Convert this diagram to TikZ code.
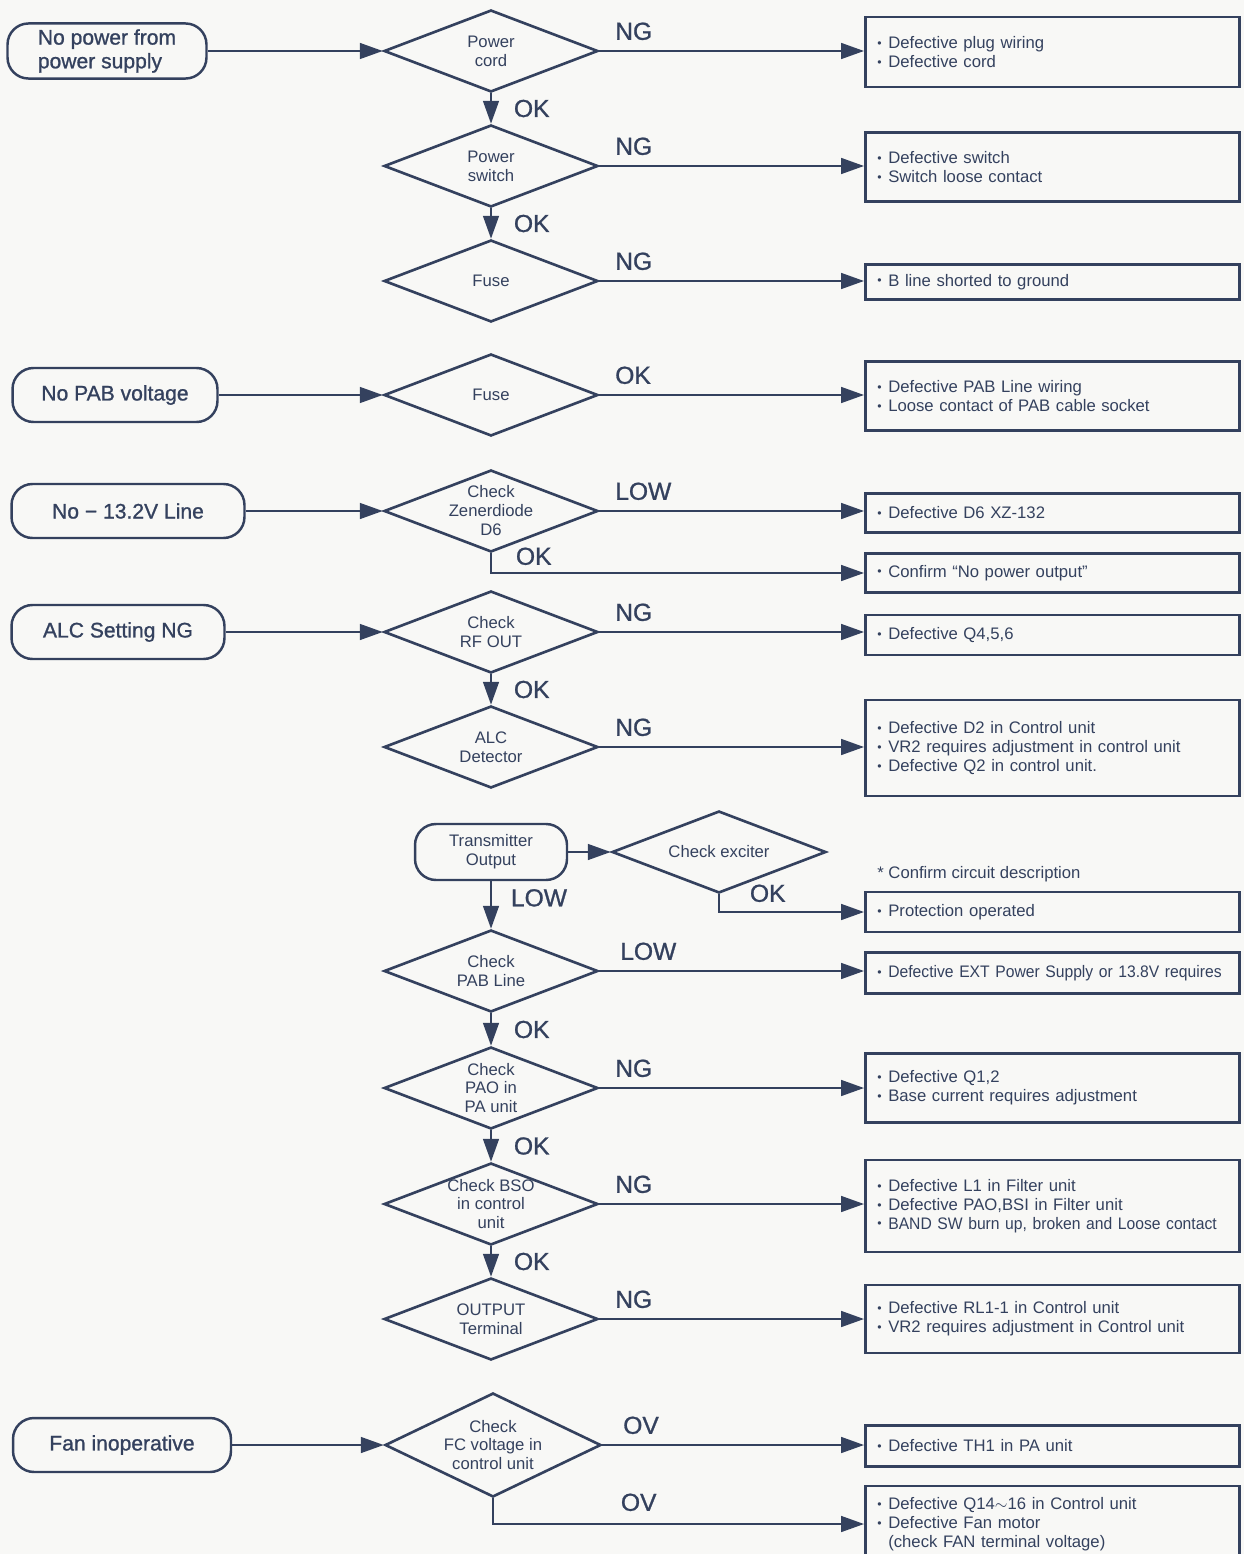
\documentclass[tikz,border=0pt]{standalone}
\usepackage{fontspec}
\setmainfont{Liberation Sans}
\newfontfamily\medfont{Liberation Sans}[FakeBold=1]
\newfontfamily\narrowfont{Liberation Sans}[FakeStretch=0.94]
\usetikzlibrary{shapes.geometric,arrows.meta,positioning}

\definecolor{ink}{HTML}{34415E}
\definecolor{paper}{HTML}{F8F8F6}
\newcommand{\itm}{\raisebox{0.15ex}{\fontsize{7}{7}\selectfont\textbullet}\hspace{0.4em}}

\begin{document}
\begin{tikzpicture}[x=0.02cm, y=-0.02cm,
  start/.style={draw=ink, line width=1.4pt, rounded corners=0.42cm, minimum height=1.08cm,
    font=\medfont\fontsize{12}{13.5}\selectfont, text=ink, align=center},
  dtext/.style={font=\fontsize{9.5}{10.8}\selectfont, text=ink, align=center, inner sep=0pt},
  check/.style={diamond, draw=ink, line width=1.5pt, minimum width=4.28cm, minimum height=1.64cm,
    inner sep=0pt, label={[dtext]center:#1}},
  fault/.style={draw=ink, line width=1.5pt, anchor=west, text width=7.0cm, inner xsep=0.24cm,
    align=left, font=\fontsize{9.5}{10.8}\selectfont, text=ink},
  flow/.style={draw=ink, line width=1.1pt, -{Triangle[length=13pt,width=9pt]}},
  lbl/.style={font=\medfont\fontsize{14}{14}\selectfont, text=ink, inner sep=0pt}]

\fill[paper] (0,0) rectangle (1244,1554);
\useasboundingbox (0,0) rectangle (1244,1554);

% starting symptoms
\node[start, minimum width=3.98cm, align=left] (s1) at (107,51) {No power from\\power supply};
\node[start, minimum width=4.10cm] (s2) at (115,395) {No PAB voltage};
\node[start, minimum width=4.66cm] (s3) at (128,511) {No − 13.2V Line};
\node[start, minimum width=4.26cm] (s4) at (118,632) {ALC Setting NG};
\node[start, minimum width=3.04cm, minimum height=1.12cm, font=\fontsize{9.5}{10.8}\selectfont] (s5) at (491,852) {Transmitter\\Output};
\node[start, minimum width=4.36cm] (s6) at (122,1445) {Fan inoperative};

% checks
\node[check={Power\\cord}] (d1) at (491,51) {};
\node[check={Power\\switch}] (d2) at (491,166) {};
\node[check={Fuse}] (d3) at (491,281) {};
\node[check={Fuse}] (d4) at (491,395) {};
\node[check={Check\\Zenerdiode\\D6}] (d5) at (491,511) {};
\node[check={Check\\RF OUT}] (d6) at (491,632) {};
\node[check={ALC\\Detector}] (d7) at (491,747) {};
\node[check={Check exciter}] (d8) at (719,852) {};
\node[check={Check\\PAB Line}] (d9) at (491,971) {};
\node[check={Check\\PAO in\\PA unit}] (d10) at (491,1088) {};
\node[check={Check BSO\\in control\\unit}] (d11) at (491,1204) {};
\node[check={OUTPUT\\Terminal}] (d12) at (491,1319) {};
\node[check={Check\\FC voltage in\\control unit}, minimum width=4.32cm, minimum height=2.08cm] (d13) at (493,1445) {};

% faults
\node[fault, minimum height=1.40cm] (r1) at (864,52) {\itm Defective plug wiring\\\itm Defective cord};
\node[fault, minimum height=1.38cm] (r2) at (864,167) {\itm Defective switch\\\itm Switch loose contact};
\node[fault, minimum height=0.70cm] (r3) at (864,282) {\itm B line shorted to ground};
\node[fault, minimum height=1.38cm] (r4) at (864,396) {\itm Defective PAB Line wiring\\\itm Loose contact of PAB cable socket};
\node[fault, minimum height=0.78cm] (r5) at (864,513) {\itm Defective D6 XZ-132};
\node[fault, minimum height=0.78cm] (r6) at (864,573) {\itm Confirm ``No power output''};
\node[fault, minimum height=0.80cm] (r7) at (864,635) {\itm Defective Q4,5,6};
\node[fault, minimum height=1.92cm] (r8) at (864,748) {\itm Defective D2 in Control unit\\\itm VR2 requires adjustment in control unit\\\itm Defective Q2 in control unit.};
\node[fault, minimum height=0.80cm] (r9) at (864,912) {\itm Protection operated};
\node[fault, minimum height=0.82cm] (r10) at (864,973) {\itm\mbox{\narrowfont Defective EXT Power Supply or 13.8V requires}};
\node[fault, minimum height=1.38cm] (r11) at (864,1088) {\itm Defective Q1,2\\\itm Base current requires adjustment};
\node[fault, minimum height=1.84cm] (r12) at (864,1206) {\itm Defective L1 in Filter unit\\\itm Defective PAO,BSI in Filter unit\\\itm\mbox{\narrowfont BAND SW burn up, broken and Loose contact}};
\node[fault, minimum height=1.36cm] (r13) at (864,1319) {\itm Defective RL1-1 in Control unit\\\itm VR2 requires adjustment in Control unit};
\node[fault, minimum height=0.82cm] (r14) at (864,1446) {\itm Defective TH1 in PA unit};
\node[fault, minimum height=1.52cm] (r15) at (864,1524) {\itm Defective Q14$\sim$16 in Control unit\\\itm Defective Fan motor\\\phantom{\itm}(check FAN terminal voltage)};
\node[dtext, anchor=south west, above right=0.16cm and 0.26cm of r9.north west] (note) {* Confirm circuit description};

% symptom to first check
\draw[flow] (s1.east) -- (d1.west);
\draw[flow] (s2.east) -- (d4.west);
\draw[flow] (s3.east) -- (d5.west);
\draw[flow] (s4.east) -- (d6.west);
\draw[flow] (s5.east) -- (d8.west);
\draw[flow] (s6.east) -- (d13.west);

% down the chains
\draw[flow] (d1.south) -- node[lbl, right=0.44cm] {OK} (d2.north);
\draw[flow] (d2.south) -- node[lbl, right=0.44cm] {OK} (d3.north);
\draw[flow] (d6.south) -- node[lbl, right=0.44cm] {OK} (d7.north);
\draw[flow] (s5.south) -- node[lbl, pos=0.35, right=0.38cm] {LOW} (d9.north);
\draw[flow] (d9.south) -- node[lbl, right=0.44cm] {OK} (d10.north);
\draw[flow] (d10.south) -- node[lbl, right=0.44cm] {OK} (d11.north);
\draw[flow] (d11.south) -- node[lbl, right=0.44cm] {OK} (d12.north);

% out to the faults
\draw[flow] (d1.east) -- node[lbl, pos=0, above right=0.2cm and 0.3cm] {NG} (d1.east -| r1.west);
\draw[flow] (d2.east) -- node[lbl, pos=0, above right=0.2cm and 0.3cm] {NG} (d2.east -| r2.west);
\draw[flow] (d3.east) -- node[lbl, pos=0, above right=0.2cm and 0.3cm] {NG} (d3.east -| r3.west);
\draw[flow] (d4.east) -- node[lbl, pos=0, above right=0.2cm and 0.3cm] {OK} (d4.east -| r4.west);
\draw[flow] (d5.east) -- node[lbl, pos=0, above right=0.2cm and 0.3cm] {LOW} (d5.east -| r5.west);
\draw[flow] (d5.south) |- node[lbl, pos=0.5, above right=0.14cm and 0.48cm] {OK} (r6.west);
\draw[flow] (d6.east) -- node[lbl, pos=0, above right=0.2cm and 0.3cm] {NG} (d6.east -| r7.west);
\draw[flow] (d7.east) -- node[lbl, pos=0, above right=0.2cm and 0.3cm] {NG} (d7.east -| r8.west);
\draw[flow] (d8.south) |- node[lbl, pos=0.5, above right=0.18cm and 0.6cm] {OK} (r9.west);
\draw[flow] (d9.east) -- node[lbl, pos=0, above right=0.2cm and 0.4cm] {LOW} (d9.east -| r10.west);
\draw[flow] (d10.east) -- node[lbl, pos=0, above right=0.2cm and 0.3cm] {NG} (d10.east -| r11.west);
\draw[flow] (d11.east) -- node[lbl, pos=0, above right=0.2cm and 0.3cm] {NG} (d11.east -| r12.west);
\draw[flow] (d12.east) -- node[lbl, pos=0, above right=0.2cm and 0.3cm] {NG} (d12.east -| r13.west);
\draw[flow] (d13.east) -- node[lbl, pos=0, above right=0.2cm and 0.4cm] {OV} (d13.east -| r14.west);
\draw[flow] (d13.south) |- node[lbl, pos=0.5, above right=0.24cm and 2.54cm] {OV} (r15.west);
\end{tikzpicture}
\end{document}
